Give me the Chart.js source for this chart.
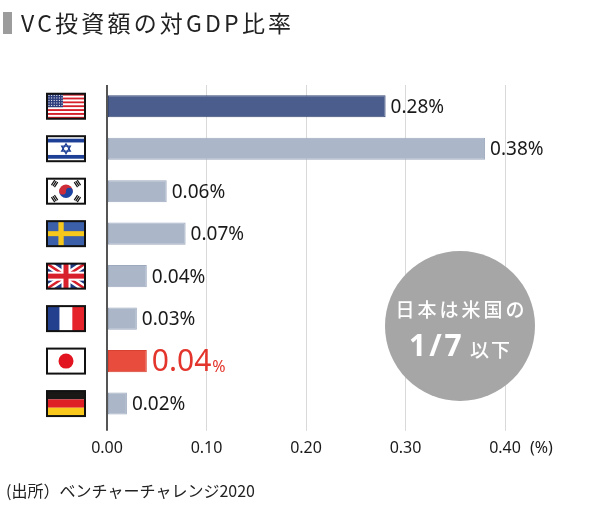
<!DOCTYPE html>
<html><head><meta charset="utf-8">
<script src="https://cdn.jsdelivr.net/npm/chart.js@4/dist/chart.umd.min.js"></script>
<style>html,body{margin:0;padding:0;background:#fff}#wrap{width:600px;height:507px;position:relative}</style>
</head><body><div id="wrap"><canvas id="c"></canvas></div>
<script>
const countries = ['アメリカ','イスラエル','韓国','スウェーデン','イギリス','フランス','日本','ドイツ'];
const flagCodes = ['us','il','kr','se','gb','fr','jp','de'];
const values = [0.28, 0.38, 0.06, 0.079, 0.04, 0.03, 0.04, 0.02];
const valueLabels = ['0.28%','0.38%','0.06%','0.07%','0.04%','0.03%','0.04','0.02%'];
const xTicks = [0, 0.1, 0.2, 0.3, 0.4];
const xTickLabels = ['0.00','0.10','0.20','0.30','0.40'];
const unitLabel = '(%)';
const titleText = 'VC投資額の対GDP比率';
const sourceText = '(出所）ベンチャーチャレンジ2020';
const noteLine1 = '日本は米国の';
const noteBig = '1/7';
const noteSmall = '以下';
const highlightIndex = 6;
const leaderIndex = 0;

const JP = '"Noto Sans CJK JP", "Noto Sans", sans-serif';
const NUM = '"Noto Sans", "Noto Sans CJK JP", sans-serif';

function drawFlag(ctx, code, x, y, w, h){
  ctx.save();
  ctx.beginPath(); ctx.rect(x, y, w, h); ctx.clip();
  ctx.fillStyle = '#fff'; ctx.fillRect(x, y, w, h);
  const cx = x + w/2, cy = y + h/2;
  if (code === 'us'){
    const sh = h/13;
    for (let i=0;i<13;i++){ ctx.fillStyle = i%2===0 ? '#d5202b' : '#ffffff'; ctx.fillRect(x, y+i*sh, w, sh+0.3); }
    ctx.fillStyle = '#2e3d7c'; ctx.fillRect(x, y, w*0.42, sh*7);
    ctx.fillStyle = '#fff';
    for (let r=0;r<5;r++) for (let c=0;c<6;c++){ ctx.fillRect(x+1.5+c*2.6, y+1.2+r*2.5, 1, 1); }
  } else if (code === 'il'){
    ctx.fillStyle = '#1d3f96';
    ctx.fillRect(x, y+h*0.1, w, h*0.15);
    ctx.fillRect(x, y+h*0.75, w, h*0.15);
    ctx.strokeStyle = '#1d3f96'; ctx.lineWidth = 1.3;
    const r = h*0.2;
    for (const rot of [-Math.PI/2, Math.PI/2]){
      ctx.beginPath();
      for (let k=0;k<3;k++){ const a = rot + k*2*Math.PI/3; const px = cx + r*Math.cos(a), py = cy + r*Math.sin(a); k===0?ctx.moveTo(px,py):ctx.lineTo(px,py); }
      ctx.closePath(); ctx.stroke();
    }
  } else if (code === 'kr'){
    const r = h*0.27;
    ctx.fillStyle = '#cd2e3a'; ctx.beginPath(); ctx.arc(cx, cy, r, Math.PI, 2*Math.PI); ctx.fill();
    ctx.fillStyle = '#1c45a3'; ctx.beginPath(); ctx.arc(cx, cy, r, 0, Math.PI); ctx.fill();
    ctx.fillStyle = '#cd2e3a'; ctx.beginPath(); ctx.arc(cx - r/2, cy, r/2, 0, 2*Math.PI); ctx.fill();
    ctx.fillStyle = '#1c45a3'; ctx.beginPath(); ctx.arc(cx + r/2, cy, r/2, 0, 2*Math.PI); ctx.fill();
    ctx.fillStyle = '#111';
    const corners = [[-1,-1],[1,-1],[-1,1],[1,1]];
    for (const [dx,dy] of corners){
      ctx.save();
      ctx.translate(cx + dx*w*0.3, cy + dy*h*0.3);
      ctx.rotate(Math.atan2(dy*h, dx*w) + Math.PI/2);
      for (let k=-1;k<=1;k++) ctx.fillRect(-3, k*1.8-0.6, 6, 1.2);
      ctx.restore();
    }
  } else if (code === 'se'){
    ctx.fillStyle = '#3b5fa8'; ctx.fillRect(x, y, w, h);
    ctx.fillStyle = '#f7c81c';
    ctx.fillRect(x + w*0.3, y, w*0.14, h);
    ctx.fillRect(x, y + h*0.4, w, h*0.2);
  } else if (code === 'gb'){
    ctx.fillStyle = '#1f3a82'; ctx.fillRect(x, y, w, h);
    ctx.lineCap = 'butt';
    ctx.strokeStyle = '#fff'; ctx.lineWidth = h*0.28;
    ctx.beginPath(); ctx.moveTo(x, y); ctx.lineTo(x+w, y+h); ctx.moveTo(x+w, y); ctx.lineTo(x, y+h); ctx.stroke();
    ctx.strokeStyle = '#d8202c'; ctx.lineWidth = h*0.1;
    ctx.beginPath(); ctx.moveTo(x, y); ctx.lineTo(x+w, y+h); ctx.moveTo(x+w, y); ctx.lineTo(x, y+h); ctx.stroke();
    ctx.fillStyle = '#fff';
    ctx.fillRect(cx - h*0.18, y, h*0.36, h); ctx.fillRect(x, cy - h*0.18, w, h*0.36);
    ctx.fillStyle = '#d8202c';
    ctx.fillRect(cx - h*0.1, y, h*0.2, h); ctx.fillRect(x, cy - h*0.1, w, h*0.2);
  } else if (code === 'fr'){
    ctx.fillStyle = '#23408e'; ctx.fillRect(x, y, w/3, h);
    ctx.fillStyle = '#ffffff'; ctx.fillRect(x+w/3, y, w/3, h);
    ctx.fillStyle = '#e4232b'; ctx.fillRect(x+2*w/3, y, w/3+1, h);
  } else if (code === 'jp'){
    ctx.fillStyle = '#e2141f'; ctx.beginPath(); ctx.arc(cx, cy, h*0.3, 0, 2*Math.PI); ctx.fill();
  } else if (code === 'de'){
    ctx.fillStyle = '#1a1717'; ctx.fillRect(x, y, w, h/3);
    ctx.fillStyle = '#df1f26'; ctx.fillRect(x, y+h/3, w, h/3);
    ctx.fillStyle = '#f8c91c'; ctx.fillRect(x, y+2*h/3, w, h/3+1);
  }
  ctx.restore();
  ctx.strokeStyle = '#111'; ctx.lineWidth = 2;
  ctx.strokeRect(x, y, w, h);
}

const decor = {
  id: 'decor',
  beforeDraw(chart){
    const ctx = chart.ctx;
    ctx.save();
    ctx.fillStyle = '#fff'; ctx.fillRect(0, 0, chart.width, chart.height);
    // title
    ctx.fillStyle = '#9c9c9c'; ctx.fillRect(3, 12, 9, 22);
    ctx.fillStyle = '#222';
    ctx.font = '23px ' + JP;
    ctx.textBaseline = 'alphabetic'; ctx.textAlign = 'left';
    try { ctx.letterSpacing = '3.2px'; } catch(e){}
    ctx.fillText(titleText, 21, 32);
    try { ctx.letterSpacing = '0px'; } catch(e){}
    // source
    ctx.font = '16px ' + JP;
    ctx.fillStyle = '#222';
    ctx.textBaseline = 'middle';
    ctx.fillText(sourceText, 6, 491);
    ctx.restore();
  },
  afterDatasetsDraw(chart){
    const ctx = chart.ctx;
    const meta = chart.getDatasetMeta(0);
    const yScale = chart.scales.y;
    ctx.save();
    // flags
    countries.forEach((c, i) => {
      const yc = yScale.getPixelForValue(i);
      drawFlag(ctx, flagCodes[i], 47, yc - 12.5, 38, 25);
    });
    // value labels
    meta.data.forEach((bar, i) => {
      const x = bar.x + 5, y = bar.y;
      ctx.textBaseline = 'middle'; ctx.textAlign = 'left';
      if (i === highlightIndex){
        ctx.fillStyle = '#e3352b';
        ctx.font = '30px ' + NUM;
        ctx.fillText(valueLabels[i], x, y + 1);
        const w = ctx.measureText(valueLabels[i]).width;
        ctx.font = '16px ' + NUM;
        ctx.fillText('%', x + w + 1, y + 6);
      } else {
        ctx.fillStyle = '#1a1a1a';
        ctx.font = '19px ' + NUM;
        ctx.fillText(valueLabels[i], x, y + 1);
      }
    });
    // unit
    const xs = chart.scales.x;
    ctx.fillStyle = '#1a1a1a';
    ctx.font = '16px ' + NUM;
    ctx.textBaseline = 'middle';
    ctx.textAlign = 'left';
    ctx.fillText(unitLabel, 530, xs.bottom - 0 > 0 ? chart.chartArea.bottom + 24 : 448);
    // note circle
    const cx = 460, cy = 326;
    ctx.fillStyle = '#a6a6a6';
    ctx.beginPath(); ctx.arc(cx, cy, 75, 0, 2*Math.PI); ctx.fill();
    ctx.fillStyle = '#fff';
    ctx.textAlign = 'center'; ctx.textBaseline = 'middle';
    ctx.font = '500 19px ' + JP;
    try { ctx.letterSpacing = '3px'; } catch(e){}
    ctx.fillText(noteLine1, cx + 1.5, 310);
    ctx.font = 'bold 30px ' + NUM;
    ctx.textAlign = 'left';
    ctx.fillText(noteBig, 409, 347);
    try { ctx.letterSpacing = '2px'; } catch(e){}
    ctx.font = '500 19px ' + JP;
    ctx.fillText(noteSmall, 470, 350);
    try { ctx.letterSpacing = '0px'; } catch(e){}
    ctx.restore();
  }
};

new Chart(document.getElementById('c'), {
  type: 'bar',
  data: {
    labels: countries,
    datasets: [{
      data: values,
      backgroundColor: values.map((v,i) => i===leaderIndex ? '#4b5d8c' : i===highlightIndex ? '#e84c3d' : '#abb7c9'),
      borderColor: values.map((v,i) => i===leaderIndex ? '#3b4b78' : i===highlightIndex ? '#d8402f' : '#9ca9bd'),
      borderWidth: 1,
      borderSkipped: false,
      barPercentage: 0.52,
      categoryPercentage: 1
    }]
  },
  options: {
    indexAxis: 'y',
    responsive: true,
    maintainAspectRatio: false,
    animation: false,
    layout: { padding: { left: 107, right: 95, top: 85, bottom: 41 } },
    plugins: { legend: { display: false }, tooltip: { enabled: false } },
    scales: {
      y: { type: 'category', display: false },
      x: {
        min: 0, max: 0.4,
        afterBuildTicks: (s) => { s.ticks = xTicks.map(v => ({ value: v })); },
        ticks: {
          callback: (v, i) => xTickLabels[i],
          color: '#1a1a1a',
          font: { family: NUM, size: 16 },
          padding: 8,
          maxRotation: 0
        },
        grid: {
          color: (c) => c.tick && c.tick.value === 0 ? '#555' : '#d9d9d9',
          lineWidth: (c) => c.tick && c.tick.value === 0 ? 2 : 1,
          tickLength: 6,
          drawTicks: true
        },
        border: { display: false }
      }
    }
  },
  plugins: [decor]
});
</script>
</body></html>
